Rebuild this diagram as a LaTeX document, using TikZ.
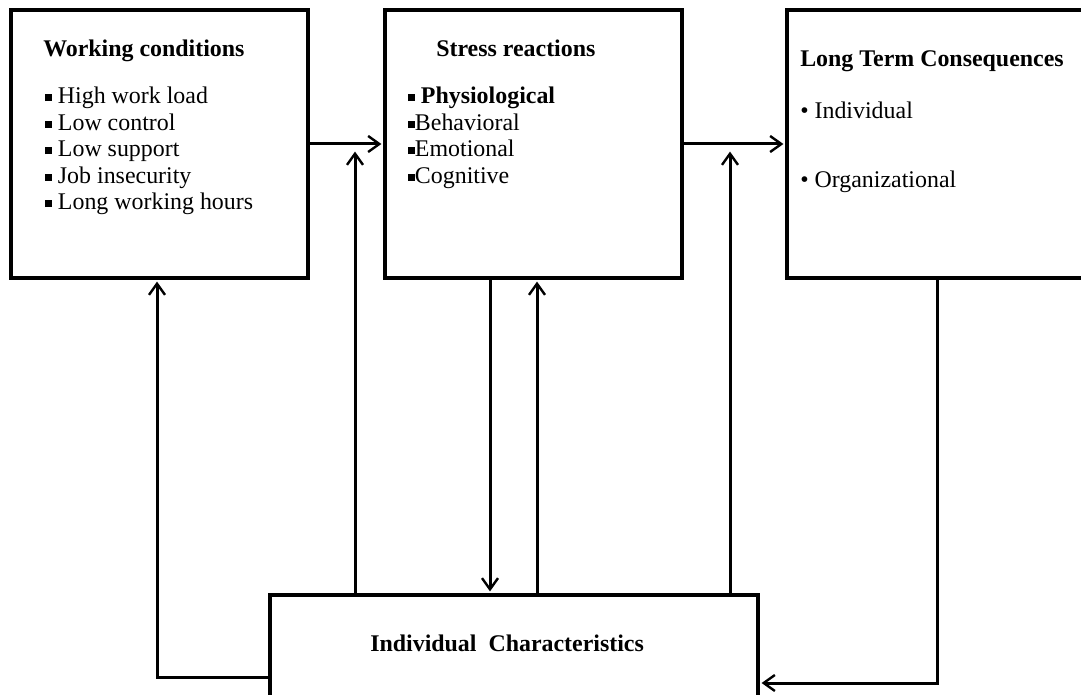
\documentclass[tikz,border=0pt]{standalone}
\usepackage{fontspec}
\setmainfont{Liberation Serif}
\usetikzlibrary{arrows.meta,fit,calc}
\newcommand\sqbul{\rule[0.12em]{0.28em}{0.28em}}
\tikzset{
	box/.style={draw, line width=0.1cm, inner sep=0pt},
	link/.style={line width=0.075cm, shorten >=0.04cm, -{Straight Barb[length=0.28cm,width=0.4cm,line width=0.06cm]}},
	head/.style={font=\fontsize{17}{20}\selectfont\bfseries, anchor=base west, inner sep=0pt},
	item/.style={font=\fontsize{17}{20}\selectfont, anchor=base west, inner sep=0pt}
}

\begin{document}
\begin{tikzpicture}[x=0.025cm, y=-0.025cm]
			%%%%% FRAME %%%%%
			\useasboundingbox (0,0) rectangle (1081,695);
			
			%%%%% BOXES %%%%%
			\node[box, fit={(11,10) (308,278)}] (wc) {};
			\node[box, fit={(385,10) (682,278)}] (sr) {};
			\node[box, fit={(787,10) (1084,278)}] (lt) {};
			\node[box, fit={(270,595) (758,725)}] (ic) {};
			
			%%%%% TEXTS %%%%%
			\node[head] (wc-t) at (43,57) {Working conditions};
			\node[item] (wc-1) at (45,104) {\sqbul\ High work load};
			\node[item] (wc-2) at (45,130.5) {\sqbul\ Low control};
			\node[item] (wc-3) at (45,157) {\sqbul\ Low support};
			\node[item] (wc-4) at (45,183.5) {\sqbul\ Job insecurity};
			\node[item] (wc-5) at (45,210) {\sqbul\ Long working hours};
			
			\node[head] (sr-t) at (436,57) {Stress reactions};
			\node[item] (sr-1) at (408,104) {\sqbul\ \textbf{Physiological}};
			\node[item] (sr-2) at (408,130.5) {\sqbul Behavioral};
			\node[item] (sr-3) at (408,157) {\sqbul Emotional};
			\node[item] (sr-4) at (408,183.5) {\sqbul Cognitive};
			
			\node[head] (lt-t) at (800,67) {Long Term Consequences};
			\node[item] (lt-1) at (800,119) {\textbullet\ Individual};
			\node[item] (lt-2) at (800,188) {\textbullet\ Organizational};
			
			\node[head] (ic-t) at (370,651) {Individual\ \ Characteristics};
			
			%%%%% LINKS %%%%%
			\coordinate (m1) at (355,150);
			\coordinate (m2) at (730,150);
			\coordinate (dn) at (490,0);
			\coordinate (up) at (537,0);
			\coordinate (lc) at (157,677);
			\coordinate (rc) at (937,683);
			
			\draw[link] (wc.east) -- (sr.west);
			\draw[link] (sr.east) -- (lt.west);
			\draw[link] (m1 |- ic.north) -- (m1);
			\draw[link] (m2 |- ic.north) -- (m2);
			\draw[link] (dn |- sr.south) -- (dn |- ic.north);
			\draw[link] (up |- ic.north) -- (up |- sr.south);
			\draw[link] (lc -| ic.west) -- (lc) -- (lc |- wc.south);
			\draw[link] (rc |- lt.south) -- (rc) -- (rc -| ic.east);
			
			%%%%% END %%%%%
\end{tikzpicture}
\end{document}
